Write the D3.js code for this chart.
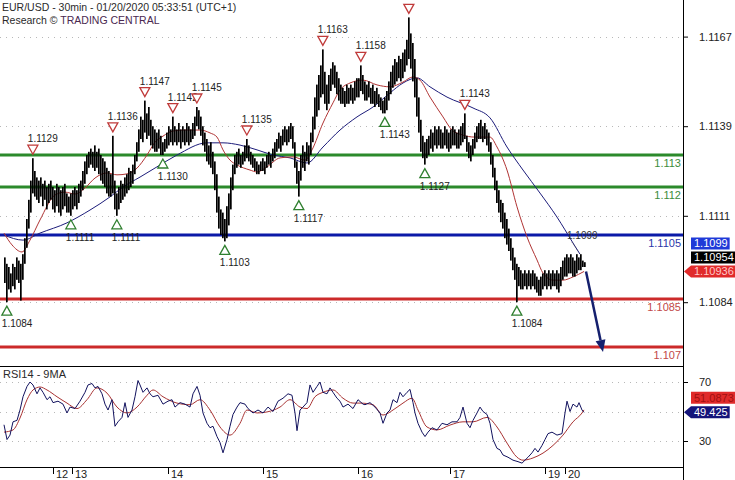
<!DOCTYPE html>
<html><head><meta charset="utf-8">
<script src="https://cdn.jsdelivr.net/npm/d3@7"></script>
<style>
body{margin:0;background:#fff}
svg{display:block;font-family:"Liberation Sans",Arial,sans-serif}
</style>
</head><body>
<svg id="c" width="735" height="480"></svg>
<script>
// ---------------- DATA ----------------
const titleText = "EUR/USD - 30min - 01/20/2020 05:33:51 (UTC+1)";
const creditPrefix = "Research © ";
const creditName = "TRADING CENTRAL";
// price = 1.1000 + pips/10000 ; one entry per 30-min bar
const basePrice = 1.1;
const highPips = [
98,96,95,93,96,95,98,97,96,99,
104,110,116,122,129,125,123,122,123,121,
122,120,121,122,120,119,121,120,119,120,
121,118,117,118,119,120,119,121,122,125,
128,130,131,132,131,133,131,132,130,129,
128,126,125,124,136,122,118,120,122,121,
123,124,126,125,127,130,134,138,142,141,
147,143,145,141,139,138,137,138,136,134,
135,137,139,138,142,139,138,140,138,139,
138,140,139,138,140,142,145,144,142,139,
137,135,133,134,131,128,124,117,113,112,
110,114,118,123,127,130,131,132,130,131,
133,135,133,131,130,129,128,127,128,129,
128,130,131,130,132,134,135,137,136,138,
139,138,139,140,139,134,128,125,130,133,
131,134,133,137,142,148,152,155,158,163,
156,152,155,157,159,158,156,154,152,151,
150,152,151,152,151,153,154,154,158,155,
153,152,153,151,152,150,151,149,148,147,
148,150,153,156,158,160,159,161,160,162,
163,166,173,168,165,160,154,148,141,136,
134,135,136,138,137,139,138,139,138,137,
139,138,137,138,139,138,137,138,139,140,
143,136,134,133,135,137,139,140,141,139,
140,138,137,134,130,126,122,119,116,115,
112,110,107,104,101,98,96,95,94,93,
94,93,94,93,94,93,92,91,92,93,
94,93,94,93,94,93,94,93,95,97,
98,99,98,99,98,97,99,98,99,97,96.5];
const lowPips = [
90,84,88,87,89,88,91,90,84.5,91,
96,101,107,112,118,117,116,115,117,114,
116,113,115,116,113,112,114,112,111,113,
114,112,112,111,113,114,113,115,117,119,
121,124,126,127,126,125,126,124,122,121,
120,118,117,117,118,113,111,113,115,116,
117,118,119,120,121,124,128,131,135,134,
137,135,136,133,132,131,131,132,130,130,
131,132,133,134,133,134,133,134,132,134,
133,134,133,134,135,136,139,138,136,133,
131,128,127,126,124,119,112,107,105,104,
103,104,108,113,119,124,126,127,126,127,
128,129,128,127,126,125,124,124,125,125,
124,126,127,126,128,129,131,132,131,133,
134,133,134,135,132,126,121,117,122,126,
125,128,127,130,134,138,142,144,148,149,
146,144,146,150,152,151,149,147,146,146,
145,146,146,147,146,147,148,148,150,149,
147,147,148,146,146,145,146,145,144,143,
143,144,147,149,151,152,153,154,153,154,
156,158,160,157,153,148,142,137,131,129,
127,129,130,132,131,133,132,133,132,132,
133,132,131,132,133,133,132,132,133,134,
135,131,129,128,130,132,134,135,135,134,
135,133,131,127,123,119,115,112,109,107,
104,102,100,97,94,91,84,89,88,88,
89,88,89,88,89,88,87,86,86,88,
89,88,89,88,89,89,88,87,89,91,
92,92,93,93,92,92,93,94,94,95,95];
const lastPrice = 1.10954;
// moving averages: [bar index, pips]
const maFast = [[0,105.6],[4,101.9],[9,99.7],[13,103.4],[18,109.7],[25.5,117.5],[30.5,118.4],[35.5,117.8],[40.5,119.7],[45.5,122.8],[51.5,124.4],[56.5,123.8],[61.5,124.1],[66.5,125.9],[71.5,130],[75.5,134],[79.5,135.9],[84.5,137.5],[90.5,137.8],[98,137.8],[103,136.9],[106.5,135.6],[109.5,131.6],[113,128.4],[116.5,126.9],[123,125.3],[126.5,124.7],[131.5,126.3],[138,129.1],[144.5,129.4],[150.5,128.4],[154,131.6],[159.5,140],[164.5,146.3],[168,150.3],[173,152.5],[179.5,153.4],[186.5,151.9],[193,151.3],[199.5,152.8],[204.5,154.4],[208,153.4],[213,148.1],[219.5,141.9],[224,137.8],[229,136.3],[235.5,135.6],[243,135.6],[246.5,132.5],[251.5,125.3],[256.5,113.8],[261.5,104.4],[266.5,97.2],[269.5,93.1],[274.5,90.9],[279.5,90.9],[284.5,91.9],[290,93.6]];
const maSlow = [[0,105],[9.5,103.4],[18,105.6],[31.5,108.8],[43,112.8],[53,116.9],[59.5,120],[68,123.1],[76.5,126.3],[86.5,130],[101.5,133.8],[109.5,133.8],[118,133.1],[126.5,131.6],[134.5,130],[143,129.1],[151.5,127.5],[159.5,132.5],[168,137.8],[176.5,141.9],[184.5,145],[193,149.4],[199.5,152.5],[206.5,154.1],[213,151.3],[221.5,148.1],[234.5,144.7],[243,141.6],[251.5,132.5],[259.5,125.3],[268,118.1],[276.5,110.6],[284.5,102.5],[288,99]];
// support / resistance levels
const levelValues = [1.113, 1.112, 1.1105, 1.1085, 1.107];
const levelLabels = ["1.113", "1.112", "1.1105", "1.1085", "1.107"];
const levelKinds  = ["res", "res", "pivot", "sup", "sup"];
// swing markers (bar indices)
const peakIdx   = [14, 54, 70, 84, 96, 121, 159, 178, 202, 230];
const unlabelledPeaks = [202];
const troughIdx = [1, 33, 56, 79, 110, 147, 190, 210, 256];
// price axis ticks
const priceTicks = [1.1084, 1.1111, 1.1139, 1.1167];
// RSI(14) and its 9-period MA: [bar index, value]
const rsi = [[0,41],[1.5,31],[3,34],[4.5,43],[6.5,44],[8,51],[9.5,60],[11.5,67],[13,70],[14.5,68],[16.5,62],[18,66],[19.5,63],[21.5,58],[23,60],[24.5,56],[27,57],[29.5,55],[31.5,49],[33,53],[35.5,52],[38,57],[40.5,63],[42,68],[44,69],[45.5,66],[47,67],[49,62],[50.5,55],[52,51],[54,58],[55.5,40],[57,43],[59,46],[60.5,56],[62,46],[64,51],[65.5,60],[67,71],[68,68],[69.5,63],[71.5,66],[73,62],[74.5,60],[77,61],[79.5,55],[82,57],[84,58],[85.5,53],[88,56],[90.5,55],[93,53],[94.5,62],[96.5,67],[98,61],[99.5,49],[101.5,42],[103,39],[104.5,40],[106.5,33],[108,29],[109.5,22],[111.5,31],[113,40],[114.5,48],[116.5,53],[118,56],[120.5,55],[122,52],[124.5,49],[127,51],[129.5,49],[132,53],[134.5,50],[137,57],[139.5,59],[142,62],[144,61],[145.5,49],[146.5,37],[148,51],[149.5,53],[151.5,56],[153,68],[154.5,63],[156.5,67],[158,70],[159.5,63],[161.5,62],[163,66],[164.5,63],[166.5,59],[168,57],[169.5,53],[172,55],[174.5,52],[177,58],[179.5,55],[180.5,54.6],[183,56],[185.5,53],[188,49],[189.5,42],[191.5,49],[193,51],[194.5,58],[196.5,56],[198,63],[199.5,60],[201.5,63],[203,65],[204.5,56],[205.5,49],[207,42],[209,36],[210.5,33],[212,36],[214,39],[216.5,37.5],[219,42],[221.5,41],[224,43],[226.5,43],[228,46],[229.5,53],[231.5,42],[233,39],[234.5,44],[236.5,49],[238,53],[239.5,50],[241.5,48],[243,42],[244.5,31],[246.5,25],[248,24],[249.5,20.5],[252,19],[254.5,17],[257,16],[259,15],[260.5,17],[262,19],[264,22],[265.5,25],[267,22.5],[269,27],[270.5,31],[272,35],[274,36],[276.5,34],[279,35],[280.5,49],[281.5,57],[283,50],[284.5,55],[286.5,53],[287.5,56],[289,51],[290,49.425]];
const rsiMa = [[0,36],[4.5,37.5],[8,45.6],[11.5,58],[14.5,64.6],[18,66.6],[21.5,64.6],[26.5,60],[31.5,55.7],[36.5,52],[41.5,58],[46.5,66],[51.5,62.5],[56.5,53],[61.5,49],[66.5,53],[71.5,61],[74.5,64.6],[79.5,60],[86.5,55.7],[93,54.6],[98,58],[103,51],[108,39.5],[113,34],[118,42],[121.5,51],[126.5,49],[131.5,49.7],[138,53],[143,58],[148,53],[151.5,52],[155.5,60],[159.5,63],[164.5,64.6],[169.5,59],[174.5,55.7],[178,55.7],[184.5,54.6],[189.5,47.6],[194.5,51],[199.5,55.7],[204,59],[207,51],[211.5,39.5],[216.5,37.5],[223,40.8],[229.5,43],[234.5,43],[241.5,46],[246.5,39.5],[251.5,28.6],[256.5,19],[259.5,17],[264.5,18.5],[269.5,21.8],[274.5,27],[279.5,34],[284.5,43],[289,49],[290,51.0873]];
const rsiTicks = [30, 70];
const rsiGrid = [30, 50, 70];
// day separators (bar index where each day starts) and labels
const dayIdx    = [24.5, 34, 82, 129.5, 177, 223, 270.5, 280.5];
const dayLabels = ["12", "13", "14", "15", "16", "17", "19", "20"];
// projected target of the arrow
const targetPrice = 1.1070;

// ---------------- CHART ----------------
const svg = d3.select("#c");
const axisX = 683, mainBottom = 366, rsiBottom = 467;
const toPrice = p => basePrice + p / 10000;
const x = d3.scaleLinear().domain([0, 290]).range([4, 584]);
const y = d3.scaleLinear().domain([1.10640625, 1.11784375]).range([mainBottom, 0]);
const yR = d3.scaleLinear().domain([30, 70]).range([441, 382]);
const levelColor = d3.scaleOrdinal().domain(["res","pivot","sup"]).range(["#2b8a2b","#0b1aa8","#cc2a2a"]);
const levelText  = d3.scaleOrdinal().domain(["res","pivot","sup"]).range(["#3c8c3c","#2a36a8","#c24848"]);

svg.append("rect").attr("width",735).attr("height",480).attr("fill","#fff");
const defs = svg.append("defs");
defs.append("clipPath").attr("id","clipMain").append("rect").attr("x",0).attr("y",0).attr("width",axisX).attr("height",mainBottom);
defs.append("clipPath").attr("id","clipRsi").append("rect").attr("x",0).attr("y",mainBottom+1).attr("width",axisX).attr("height",rsiBottom-mainBottom-1);

// grid
const grid = svg.append("g").attr("stroke","#b8b8b8").attr("stroke-dasharray","1,5");
grid.selectAll("line.pg").data(priceTicks).join("line")
  .attr("x1",0).attr("x2",axisX).attr("y1",d=>Math.round(y(d))+0.5).attr("y2",d=>Math.round(y(d))+0.5);
grid.selectAll("line.rg").data(rsiGrid).join("line")
  .attr("x1",0).attr("x2",axisX).attr("y1",d=>Math.round(yR(d))+0.5).attr("y2",d=>Math.round(yR(d))+0.5);

const gMain = svg.append("g").attr("clip-path","url(#clipMain)");

// levels
const levels = levelValues.map((v,i)=>({v, label:levelLabels[i], kind:levelKinds[i]}));
gMain.selectAll("line.lvl").data(levels).join("line")
  .attr("x1",0).attr("x2",axisX).attr("y1",d=>y(d.v)).attr("y2",d=>y(d.v))
  .attr("stroke",d=>levelColor(d.kind)).attr("stroke-width",3);
gMain.selectAll("text.lvl").data(levels).join("text")
  .attr("x",axisX-2).attr("y",d=>y(d.v)+12).attr("text-anchor","end")
  .attr("font-size",11).attr("fill",d=>levelText(d.kind)).text(d=>d.label);

// moving averages
const maLine = d3.line().x(d=>x(d[0])).y(d=>y(toPrice(d[1]))).curve(d3.curveMonotoneX);
gMain.append("path").attr("d",maLine(maSlow)).attr("fill","none").attr("stroke","#1c1c7a").attr("stroke-width",1);
gMain.append("path").attr("d",maLine(maFast)).attr("fill","none").attr("stroke","#b03434").attr("stroke-width",1);

// bars
const bars = highPips.map((h,i)=>({i, h:toPrice(h), l:toPrice(lowPips[i])}));
gMain.selectAll("rect.bar").data(bars).join("rect")
  .attr("x",d=>x(d.i)).attr("width",1.7)
  .attr("y",d=>y(d.h)).attr("height",d=>Math.max(1,y(d.l)-y(d.h)))
  .attr("fill","#000");

// swing markers
const peaks = peakIdx.map(i=>({i, v:toPrice(highPips[i]), lab: !unlabelledPeaks.includes(i)}));
const troughs = troughIdx.map(i=>({i, v:toPrice(lowPips[i])}));
const fmt4 = d3.format(".4f");
peaks.forEach(d=>{
  const cx = x(d.i)+0.85, tip = y(d.v)-4, top = tip-9;
  gMain.append("path").attr("d",`M${cx-5},${top}L${cx+5},${top}L${cx},${tip}Z`)
    .attr("fill","#fff").attr("stroke","#c03a3a").attr("stroke-width",1.3);
  if (d.lab) gMain.append("text").attr("x",cx-5).attr("y",top-3).attr("font-size",10).attr("fill","#222").text(fmt4(d.v));
});
troughs.forEach(d=>{
  const cx = x(d.i)+0.85, tip = y(d.v)+4, bot = tip+9;
  gMain.append("path").attr("d",`M${cx-5},${bot}L${cx+5},${bot}L${cx},${tip}Z`)
    .attr("fill","#fff").attr("stroke","#2f7f2f").attr("stroke-width",1.3);
  gMain.append("text").attr("x",cx-5).attr("y",bot+12).attr("font-size",10).attr("fill","#222").text(fmt4(d.v));
});

// slow MA end label with leader
const slowEnd = maSlow[maSlow.length-1];
const sx = x(slowEnd[0]), sy = y(toPrice(slowEnd[1]));
gMain.append("line").attr("x1",sx-8).attr("y1",sy-12).attr("x2",sx-2).attr("y2",sy-3)
  .attr("stroke","#555").attr("stroke-dasharray","1,1").attr("stroke-width",0.8);
gMain.append("text").attr("x",sx-13).attr("y",sy-15)
  .attr("font-size",10).attr("fill","#333").text(fmt4(toPrice(slowEnd[1])));

// projection arrow
const ax0 = x(290)+2, ay0 = y(toPrice(maFast[maFast.length-1][1])), ax1 = x(290)+19, ay1 = y(targetPrice)+5;
const ang = Math.atan2(ay1-ay0, ax1-ax0);
const hx = ax1 - 12*Math.cos(ang), hy = ay1 - 12*Math.sin(ang);
svg.append("line").attr("x1",ax0).attr("y1",ay0).attr("x2",hx).attr("y2",hy).attr("stroke","#15206e").attr("stroke-width",2.5);
svg.append("path").attr("d",`M${ax1},${ay1}L${hx+5*Math.sin(ang)},${hy-5*Math.cos(ang)}L${hx-5*Math.sin(ang)},${hy+5*Math.cos(ang)}Z`).attr("fill","#15206e");

// RSI panel
const gR = svg.append("g").attr("clip-path","url(#clipRsi)");
gR.append("path").attr("d",d3.line().x(d=>x(d[0])).y(d=>yR(d[1])).curve(d3.curveMonotoneX)(rsiMa)).attr("fill","none").attr("stroke","#a83232").attr("stroke-width",1);
gR.append("path").attr("d",d3.line().x(d=>x(d[0])).y(d=>yR(d[1]))(rsi)).attr("fill","none").attr("stroke","#12125e").attr("stroke-width",1);

// frame lines
svg.append("line").attr("x1",0).attr("x2",axisX).attr("y1",mainBottom+0.5).attr("y2",mainBottom+0.5).attr("stroke","#000");
svg.append("line").attr("x1",0).attr("x2",axisX).attr("y1",rsiBottom+0.5).attr("y2",rsiBottom+0.5).attr("stroke","#000");
svg.append("line").attr("x1",axisX+0.5).attr("x2",axisX+0.5).attr("y1",0).attr("y2",480).attr("stroke","#000");

// right axes
const axP = d3.axisRight(y).tickValues(priceTicks).tickSize(5).tickPadding(11).tickFormat(fmt4);
const gAP = svg.append("g").attr("transform",`translate(${axisX},0)`).call(axP);
const axR = d3.axisRight(yR).tickValues(rsiTicks).tickSize(5).tickPadding(11).tickFormat(d3.format("d"));
const gAR = svg.append("g").attr("transform",`translate(${axisX},0)`).call(axR);
[gAP,gAR].forEach(g=>{ g.select(".domain").remove(); g.selectAll("text").attr("font-size",11).attr("font-family","Liberation Sans, Arial").attr("fill","#222"); });

// value boxes
function valueBox(yc, text, fill, textFill, arrow){
  const g = svg.append("g");
  const t = g.append("text").attr("x",694).attr("y",yc+4).attr("font-size",11).attr("fill",textFill).text(text);
  const w = t.node().getComputedTextLength();
  const x0 = 691, x1 = Math.min(735, 694+w+2), h = 12;
  const path = arrow ? `M684,${yc}L${x0},${yc-h/2}L${x1},${yc-h/2}L${x1},${yc+h/2}L${x0},${yc+h/2}Z`
                     : `M${x0},${yc-h/2}L${x1},${yc-h/2}L${x1},${yc+h/2}L${x0},${yc+h/2}Z`;
  g.insert("path","text").attr("d",path).attr("fill",fill);
}
const fastLast = toPrice(maFast[maFast.length-1][1]);
const slowLast = toPrice(slowEnd[1]);
let yb1 = y(fastLast);
let yb2 = Math.min(y(lastPrice), yb1-14);
let yb3 = Math.min(y(slowLast), yb2-14);
valueBox(yb1, d3.format(".5f")(fastLast), "#e02a2a", "#ffc8c8", true);
valueBox(yb2, d3.format(".5f")(lastPrice), "#000", "#fff", false);
valueBox(yb3, fmt4(slowLast), "#1f3ad8", "#fff", false);
const rsiLast = rsi[rsi.length-1][1], rsiMaLast = rsiMa[rsiMa.length-1][1];
const yr1 = yR(rsiLast), yr2 = Math.min(yR(rsiMaLast), yr1-14.5);
valueBox(yr1, String(rsiLast), "#14147a", "#fff", true);
valueBox(yr2, String(rsiMaLast), "#e02a2a", "#a01010", false);

// day axis
const days = dayIdx.map((d,i)=>({d, label:dayLabels[i]}));
svg.selectAll("line.day").data(days).join("line")
  .attr("x1",d=>Math.round(x(d.d))+0.5).attr("x2",d=>Math.round(x(d.d))+0.5).attr("y1",rsiBottom).attr("y2",rsiBottom+7).attr("stroke","#000");
svg.selectAll("text.day").data(days).join("text")
  .attr("x",d=>Math.round(x(d.d))+3).attr("y",478).attr("font-size",11).attr("fill","#222").text(d=>d.label);

// titles
svg.append("text").attr("x",2).attr("y",11).attr("font-size",10.5).attr("fill","#2a2a2a").text(titleText);
const cr = svg.append("text").attr("x",2).attr("y",24).attr("font-size",10.5).attr("fill","#2a2a2a");
cr.append("tspan").text(creditPrefix);
cr.append("tspan").attr("fill","#4a2850").text(creditName);
svg.append("text").attr("x",3).attr("y",378).attr("font-size",11).attr("fill","#2a2a2a").text("RSI14 - 9MA");
</script>
</body></html>
